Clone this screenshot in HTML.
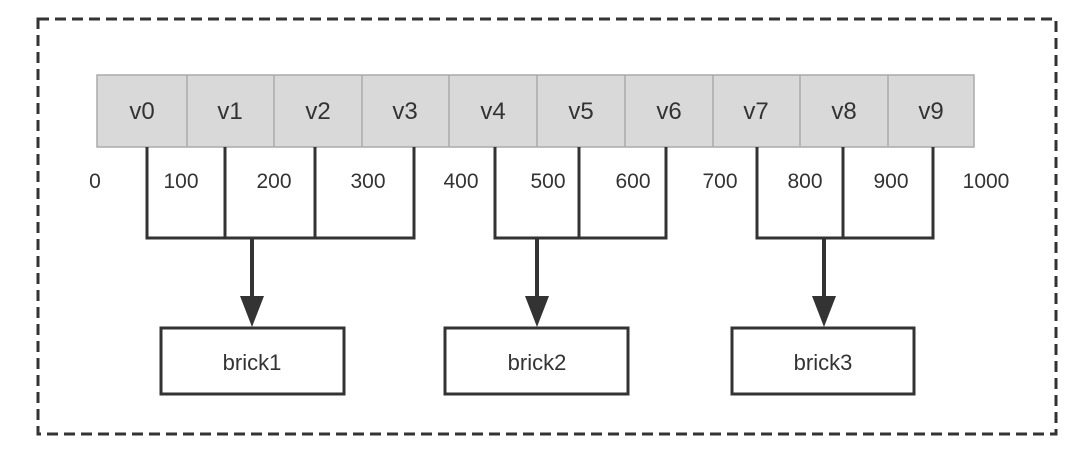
<!DOCTYPE html>
<html><head><meta charset="utf-8"><style>body{margin:0;background:#fff}svg{display:block}</style></head><body>
<svg width="1080" height="465" viewBox="0 0 1080 465" xmlns="http://www.w3.org/2000/svg" font-family="Liberation Sans, DejaVu Sans, sans-serif">
<rect x="38" y="19" width="1018" height="415" fill="none" stroke="#333" stroke-width="3" stroke-dasharray="11,6"/>
<g stroke="#aaa" stroke-width="1.5" fill="#d9d9d9">
<rect x="97" y="75" width="877" height="72"/>
</g>
<g stroke="#aaa" stroke-width="1.5">
<line x1="187" y1="75" x2="187" y2="147"/><line x1="274" y1="75" x2="274" y2="147"/><line x1="362" y1="75" x2="362" y2="147"/><line x1="449" y1="75" x2="449" y2="147"/><line x1="537" y1="75" x2="537" y2="147"/><line x1="625" y1="75" x2="625" y2="147"/><line x1="713" y1="75" x2="713" y2="147"/><line x1="800" y1="75" x2="800" y2="147"/><line x1="888" y1="75" x2="888" y2="147"/>
</g>
<g font-size="24" fill="#333" text-anchor="middle">
<text x="142" y="119">v0</text><text x="230" y="119">v1</text><text x="318" y="119">v2</text><text x="405" y="119">v3</text><text x="493" y="119">v4</text><text x="581" y="119">v5</text><text x="669" y="119">v6</text><text x="756" y="119">v7</text><text x="844" y="119">v8</text><text x="931" y="119">v9</text>
</g>
<g font-size="21" fill="#333" text-anchor="middle">
<text x="95" y="188">0</text><text x="181" y="188">100</text><text x="274" y="188">200</text><text x="368" y="188">300</text><text x="461" y="188">400</text><text x="548" y="188">500</text><text x="633" y="188">600</text><text x="720" y="188">700</text><text x="805" y="188">800</text><text x="891" y="188">900</text><text x="986" y="188">1000</text>
</g>
<g stroke="#333" stroke-width="3" fill="none">
<polyline points="147,147 147,238 414,238 414,147"/><line x1="225" y1="147" x2="225" y2="238"/><line x1="315" y1="147" x2="315" y2="238"/>
<polyline points="495,147 495,238 666,238 666,147"/><line x1="579" y1="147" x2="579" y2="238"/>
<polyline points="757,147 757,238 933,238 933,147"/><line x1="843" y1="147" x2="843" y2="238"/>
</g>
<g stroke="#333" stroke-width="4">
<line x1="252" y1="238" x2="252" y2="300"/><line x1="537" y1="238" x2="537" y2="300"/><line x1="824" y1="238" x2="824" y2="300"/>
</g>
<g fill="#333">
<polygon points="240,296 264,296 252,327"/><polygon points="525,296 549,296 537,327"/><polygon points="812,296 836,296 824,327"/>
</g>
<g stroke="#333" stroke-width="3" fill="#fff">
<rect x="161" y="328" width="183" height="66"/><rect x="445" y="328" width="183" height="66"/><rect x="732" y="328" width="182" height="66"/>
</g>
<g font-size="22" fill="#333" text-anchor="middle">
<text x="252" y="370">brick1</text><text x="537" y="370">brick2</text><text x="823" y="370">brick3</text>
</g>
</svg>
</body></html>
